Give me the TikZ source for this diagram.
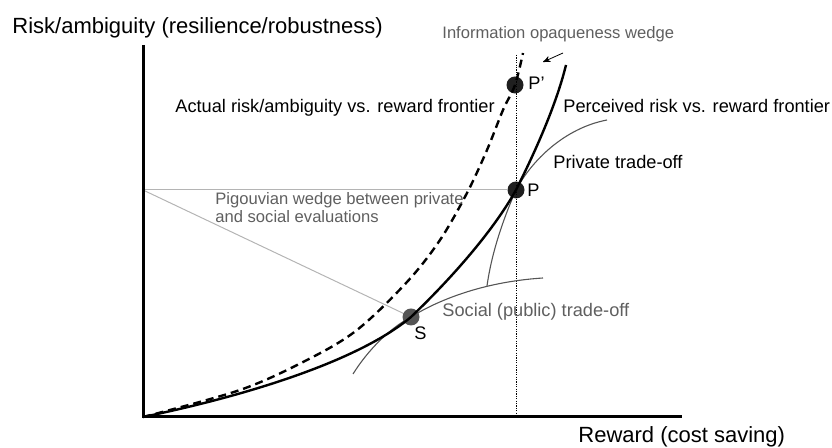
\documentclass[tikz,border=0pt]{standalone}
\usepackage{fontspec}
\setmainfont{Liberation Sans}
\usepackage{tikz}
\usetikzlibrary{arrows}
\definecolor{notegray}{HTML}{5F5F5F}
\definecolor{curvegray}{HTML}{555555}
\definecolor{wedgegray}{HTML}{B4B4B4}

\begin{document}
\begin{tikzpicture}[x=0.5pt,y=-0.5pt,>=stealth'
        ,axis/.style = {line width=1.5pt}
        ,frontier/.style = {line width=1.2pt}
        ,actual/.style = {line width=1.2pt, dash pattern=on 4pt off 2.5pt}
        ,tradeoff/.style = {draw=curvegray, line width=0.55pt}
        ,wedge/.style = {draw=wedgegray, line width=0.5pt}
        ,dot/.style = {circle, fill=black!88, minimum size=8.5pt, inner sep=0pt}
        ,label/.style = {font=\fontsize{9.1}{11}\selectfont, inner sep=0pt, anchor=base west}
        ,note/.style = {font=\fontsize{8.3}{9}\selectfont, text=notegray, inner sep=0pt}
        ,axislabel/.style = {font=\fontsize{11}{13}\selectfont, inner sep=0pt, anchor=base west}
      ]
      \useasboundingbox (0,0) rectangle (832,448);

      \coordinate (O) at (143,417);
      \coordinate (ytop) at (143,45);
      \coordinate (xend) at (682,417);
      \coordinate (wedgeleft) at (143,190);
      \coordinate (vtop) at (516,55);
      \coordinate (vbot) at (516,417);
      \coordinate (arrowtail) at (563,53);
      \coordinate (arrowhead) at (543,62);

      \node[dot] (Pp) at (515,85) {};
      \node[dot] (P) at (516,190) {};
      \node[dot, fill=curvegray] (S) at (411,317) {};

      \draw[wedge] (wedgeleft) -- (P);
      \draw[wedge] (wedgeleft) -- (S);
      \draw[line width=0.4pt, dash pattern=on 0.6pt off 0.6pt] (vtop) -- (vbot);

      \draw[tradeoff] (487,286) .. controls (492,250) and (505,215) .. (P.center)
                      .. controls (532,160) and (565,128) .. (607,120);
      \draw[tradeoff] (353,374) .. controls (368,350) and (390,328) .. (S.center)
                      .. controls (435,302) and (480,282) .. (543,278);

      \draw[frontier] (O) .. controls (250,395) and (360,360) .. (S.center)
                      .. controls (455,275) and (495,228) .. (P.center)
                      .. controls (530,162) and (555,110) .. (566,65);
      \draw[actual] plot[smooth, tension=0.55] coordinates {(O) (240,390) (307,360) (357,330)
            (407,282) (440,240) (467,193) (487,150) (503,110) (Pp.center) (523,53)};

      \draw[axis] (ytop) -- (O) -- (xend);
      \draw[->, line width=0.4pt] (arrowtail) -- (arrowhead);

      \node[axislabel] (ylabel) at (12,34) {Risk/ambiguity (resilience/robustness)};
      \node[axislabel] (xlabel) at (578,443) {Reward (cost saving)};
      \node[note, anchor=base west] (opaque) at (442,39) {Information opaqueness wedge};
      \node[label] (actuallbl) at (175,113) {Actual risk/ambiguity vs. reward frontier};
      \node[label] (perceivedlbl) at (563,113) {Perceived risk vs. reward frontier};
      \node[label] (privatelbl) at (553,169) {Private trade-off};
      \node[note, anchor=north west, align=left] (pigou) at (215,192)
            {Pigouvian wedge between private\\and social evaluations};
      \node[label, text=notegray] (sociallbl) at (442,317) {Social (public) trade-off};
      \node[label] (Plbl) at (527,197) {P};
      \node[label] (Pplbl) at (528,90) {P\char39};
      \node[label] (Slbl) at (414,340) {S};
    \end{tikzpicture}
\end{document}
